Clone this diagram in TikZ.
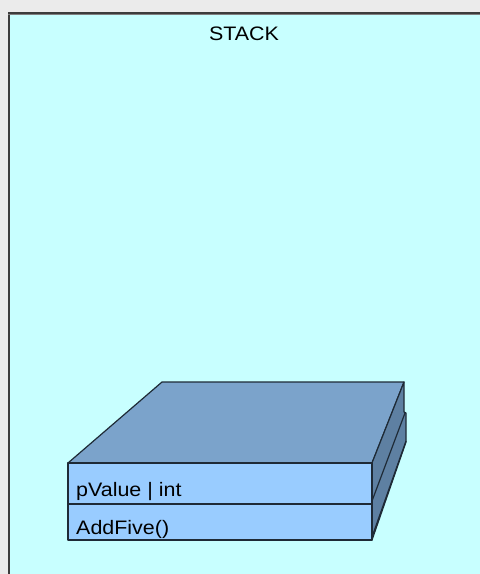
\documentclass[tikz,border=0pt]{standalone}
\usepackage{fontspec}
\setmainfont{Liberation Sans}
\newfontfamily\widesans[FakeStretch=1.1]{Liberation Sans}
\definecolor{outerbg}{HTML}{EBEBEB}
\definecolor{framebg}{HTML}{C8FFFF}
\definecolor{framelin}{HTML}{3C3C3C}
\definecolor{frontc}{HTML}{99CCFF}
\definecolor{topc}{HTML}{7BA3CB}
\definecolor{sidec}{HTML}{5E80A2}
\definecolor{edgec}{HTML}{1E2A36}
\tikzset{
  face/.style={draw=edgec, line width=1.2pt, line join=round},
  lbl/.style={anchor=base west, inner sep=0pt, font=\widesans\fontsize{19.5}{22}\selectfont},
}
\begin{document}
\begin{tikzpicture}[x=1pt,y=-1pt]
\useasboundingbox (0,0) rectangle (480,574);
\begin{scope}
\clip (0,0) rectangle (480,574);
\fill[outerbg] (0,0) rectangle (480,574);
\fill[framebg] (8,12) rectangle (495,590);
\draw[framelin, line width=2pt] (8.5,590) -- (8.5,12.5) -- (495,12.5);
\draw[gray, line width=0.8pt] (8,14.5) -- (495,14.5);
\end{scope}
\node[lbl, anchor=base] (title) at (244,40) {STACK};
% corners
\coordinate (fl) at (68,463);
\coordinate (fr) at (372,463);
\coordinate (bl) at (162,382);
\coordinate (br) at (404,382);
\coordinate (dl) at (68,504);
\coordinate (dr) at (372,504);
\coordinate (ll) at (68,540);
\coordinate (lr) at (372,540);
% top face
\filldraw[face, fill=topc] (fl) -- (bl) -- (br) -- (fr) -- cycle;
% side face
\filldraw[face, fill=sidec] (fr) -- (br) -- (404,412) -- (406,413) -- (406,442) -- (lr) -- cycle;
\draw[face] (372,501) -- (405,413);
\draw[face] (372,537) -- (406,441);
% front face
\filldraw[face, fill=frontc] (fl) rectangle (lr);
\draw[face] (dl) -- (dr);
\node[lbl] (attr) at (76,496) {pValue | int};
\node[lbl] (meth) at (76,534) {AddFive()};
\end{tikzpicture}
\end{document}
